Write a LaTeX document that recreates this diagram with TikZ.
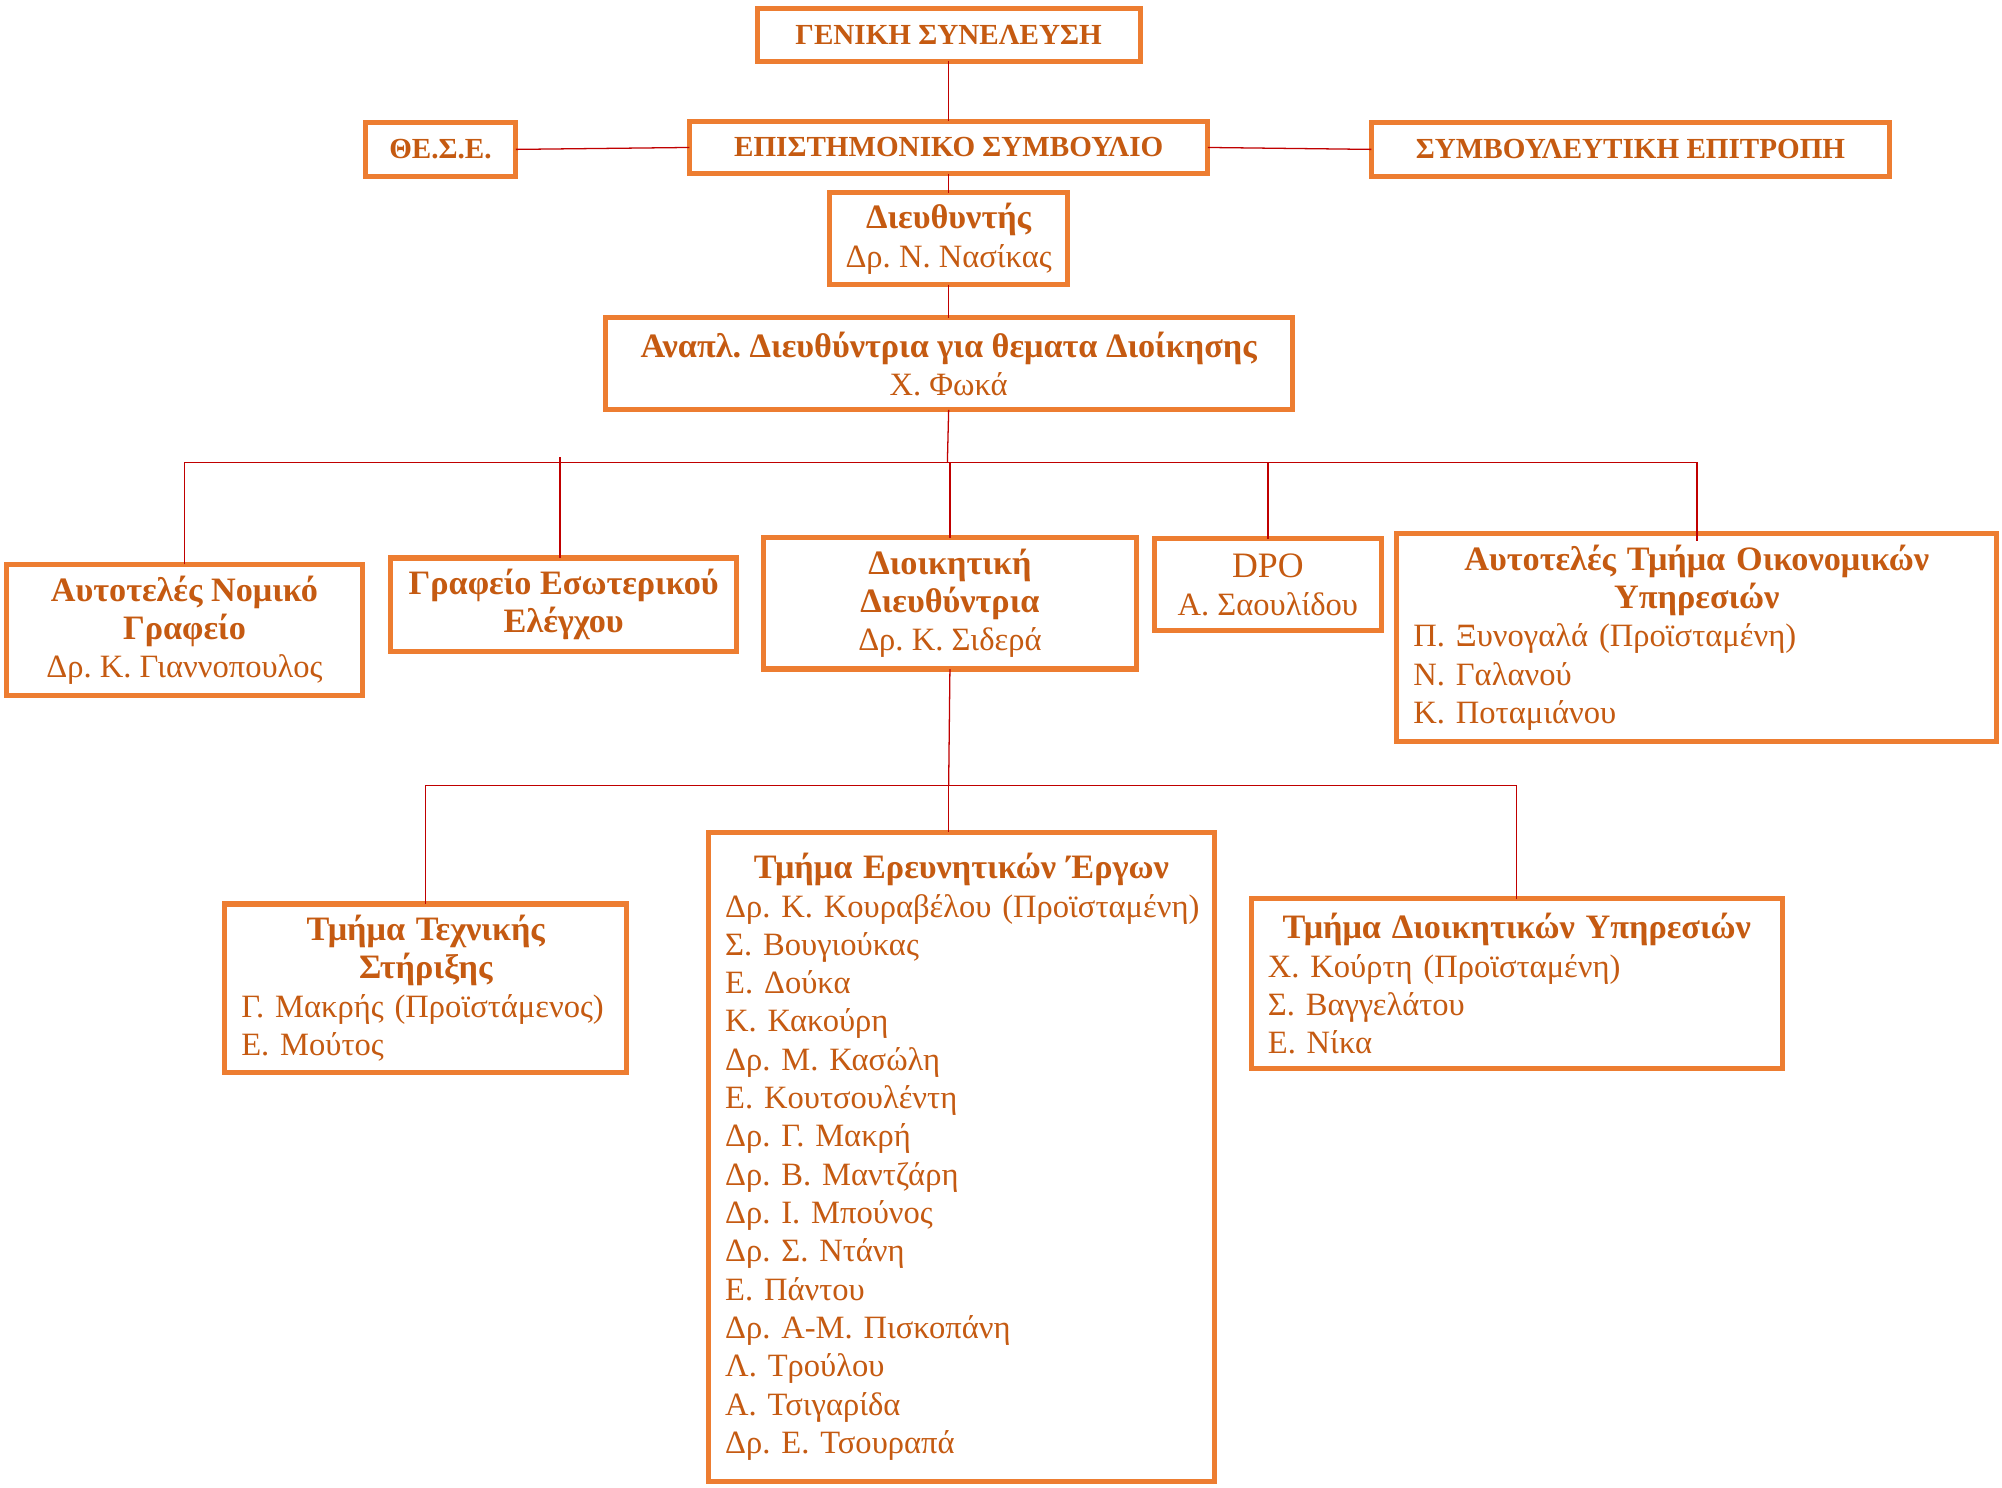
\documentclass[tikz,border=0pt]{standalone}
\usepackage{fontspec}
\setmainfont{Liberation Serif}
\frenchspacing
\definecolor{boxc}{HTML}{ED7D31}
\definecolor{txtc}{HTML}{C55A11}
\definecolor{linec}{HTML}{C00000}
\newcommand\bodysz{\fontsize{25.5}{30}\selectfont}
\newcommand\bh[1]{{\fontsize{26.8}{30}\selectfont\bfseries #1}}
\newcommand\bc[1]{{\fontsize{22.8}{30}\selectfont\bfseries #1}}
\newcommand\hdr[1]{\makebox[\linewidth][c]{\bh{#1}}}
\tikzset{
  box/.style={draw=boxc, line width=4pt, inner sep=0pt, outer sep=0pt,
    font=\bodysz, text=txtc, align=center},
  listbox/.style={box, inner xsep=13pt, align=left},
  conn/.style={draw=linec, line width=1pt},
}
\begin{document}
\begin{tikzpicture}[x=1pt,y=-1pt]
\fill[white] (0,0) rectangle (1568,1165);
\useasboundingbox (0,0) rectangle (1568,1165);

% top level
\node[box, minimum width=300pt, minimum height=41pt] (gs) at (743,27.5) {\bc{ΓΕΝΙΚΗ ΣΥΝΕΛΕΥΣΗ}};
\node[box, minimum width=406pt, minimum height=41pt] (es) at (743,115.5) {\bc{ΕΠΙΣΤΗΜΟΝΙΚΟ ΣΥΜΒΟΥΛΙΟ}};
\node[box, minimum width=118pt, minimum height=42pt] (th) at (345,117) {\bc{ΘΕ.Σ.Ε.}};
\node[box, minimum width=406pt, minimum height=42pt] (sy) at (1277,117) {\bc{ΣΥΜΒΟΥΛΕΥΤΙΚΗ ΕΠΙΤΡΟΠΗ}};
\node[box, minimum width=186pt, minimum height=72pt] (dir) at (743,187) {\bh{Διευθυντής}\\Δρ. Ν. Νασίκας};
\node[box, minimum width=538pt, minimum height=72pt] (an) at (743,285) {\bh{Αναπλ. Διευθύντρια για θεματα Διοίκησης}\\Χ. Φωκά};

% second level
\node[box, minimum width=279pt, minimum height=103pt] (nom) at (144.5,493.5) {\bh{Αυτοτελές Νομικό}\\\bh{Γραφείο}\\Δρ. Κ. Γιαννοπουλος};
\node[box, minimum width=271pt, minimum height=73pt] (gr) at (441.5,473.5) {\bh{Γραφείο Εσωτερικού}\\\bh{Ελέγχου}};
\node[box, minimum width=292pt, minimum height=103pt] (dd) at (744,472.5) {\bh{Διοικητική}\\\bh{Διευθύντρια}\\Δρ. Κ. Σιδερά};
\node[box, minimum width=178pt, minimum height=72pt] (dpo) at (993,458) {{\fontsize{28}{30}\selectfont DPO}\\Α. Σαουλίδου};
\node[listbox, minimum width=470pt, minimum height=163pt, text width=444pt] (oik) at (1329,499.5)
  {\hdr{Αυτοτελές Τμήμα Οικονομικών}\\\hdr{Υπηρεσιών}\\Π. Ξυνογαλά (Προϊσταμένη)\\Ν. Γαλανού\\Κ. Ποταμιάνου};

% third level
\node[listbox, minimum width=315pt, minimum height=132pt, text width=289pt] (tech) at (333.5,774)
  {\hdr{Τμήμα Τεχνικής}\\\hdr{Στήριξης}\\\mbox{Γ. Μακρής (Προϊστάμενος)}\\Ε. Μούτος};
\node[listbox, minimum width=396pt, minimum height=508pt, text width=370pt] (erev) at (753,906)
  {\hdr{Τμήμα Ερευνητικών Έργων}\\\mbox{Δρ. Κ. Κουραβέλου (Προϊσταμένη)}\\Σ. Βουγιούκας\\Ε. Δούκα\\Κ. Κακούρη\\Δρ. Μ. Κασώλη\\Ε. Κουτσουλέντη\\Δρ. Γ. Μακρή\\Δρ. Β. Μαντζάρη\\Δρ. Ι. Μπούνος\\Δρ. Σ. Ντάνη\\Ε. Πάντου\\Δρ. Α-Μ. Πισκοπάνη\\Λ. Τρούλου\\Α. Τσιγαρίδα\\Δρ. Ε. Τσουραπά};
\node[listbox, minimum width=416pt, minimum height=133pt, text width=390pt] (dioik) at (1188,770.5)
  {\hdr{Τμήμα Διοικητικών Υπηρεσιών}\\Χ. Κούρτη (Προϊσταμένη)\\Σ. Βαγγελάτου\\Ε. Νίκα};

% connectors
\coordinate (bus1) at (742,362);
\coordinate (bus2) at (743,615);
\draw[conn] (gs.south) -- (es.north);
\draw[conn] (es.south) -- (dir.north);
\draw[conn] (dir.south) -- (an.north);
\draw[conn] (th.east) -- (es.west);
\draw[conn] (es.east) -- (sy.west);

\draw[conn] (an.south) -- (bus1);
\draw[conn] (nom.north) -- (nom.north |- bus1) -- (oik.north |- bus1) -- ([yshift=-6pt]oik.north);
\draw[conn] ([xshift=-3pt]gr.north) -- ([xshift=-3pt,yshift=4pt]gr.north |- bus1);
\draw[conn] (dd.north) -- (dd.north |- bus1);
\draw[conn] (dpo.north) -- (dpo.north |- bus1);

\draw[conn] (dd.south) -- (bus2);
\draw[conn] (tech.north) -- (tech.north |- bus2) -- (dioik.north |- bus2) -- (dioik.north);
\draw[conn] (bus2) -- (bus2 |- erev.north);
\end{tikzpicture}
\end{document}
